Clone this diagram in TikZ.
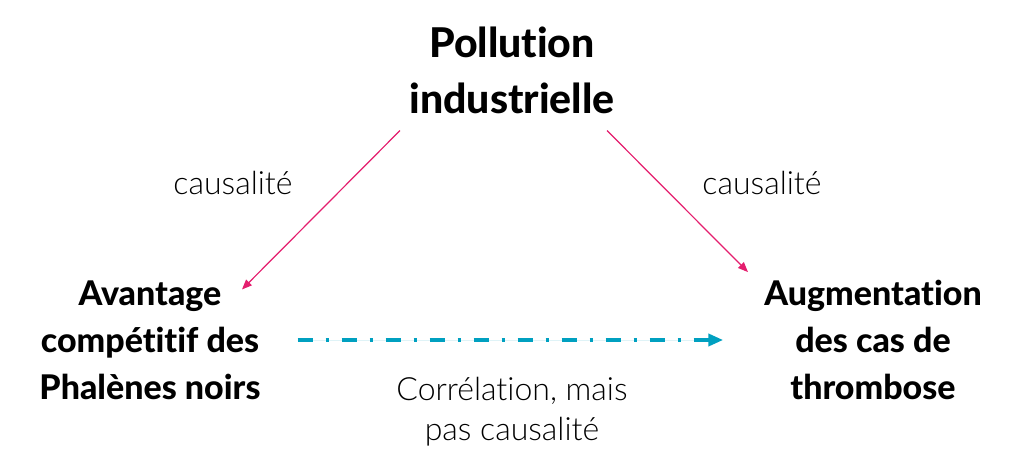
\documentclass[tikz,border=0pt]{standalone}
\usepackage{fontspec}
\setmainfont{Lato}[Ligatures=NoCommon, BoldFont={Lato Heavy}]
\newfontfamily\lightfont{Lato Light}[Ligatures=NoCommon]
\usetikzlibrary{arrows.meta}
\definecolor{causepink}{RGB}{228,30,110}
\definecolor{correlblue}{RGB}{0,160,192}

\begin{document}
\begin{tikzpicture}[x=0.5pt, y=-0.5pt,
    title/.style={align=center, font=\fontsize{20.5}{28}\selectfont\bfseries},
    factor/.style={align=center, font=\fontsize{17}{23.5}\selectfont\bfseries},
    note/.style={align=center, font=\lightfont\fontsize{16}{20}\selectfont},
    causal/.style={-{Triangle[length=5pt, width=4pt]}, draw=causepink, fill=causepink, line width=0.6pt},
    correl/.style={-{Triangle[length=7.5pt, width=6pt]}, draw=correlblue, fill=correlblue, line width=2pt,
        dash pattern=on 7.5pt off 6.5pt on 1.5pt off 6.5pt}]
    \useasboundingbox (0,0) rectangle (1024,466);
    \node[title](pollution) at (512,70) {Pollution\\industrielle};
    \node[factor](avantage) at (150,340) {Avantage\\compétitif des\\Phalènes noirs};
    \node[factor](thrombose) at (873,340) {Augmentation\\des cas de\\thrombose};
    \node[note](causeL) at (233,183) {causalité};
    \node[note](causeR) at (762,183) {causalité};
    \node[note](correlation) at (512,412) {Corrélation, mais\\pas causalité};
    \draw[causal] ([shift={(-112,10)}]pollution.south) to ([shift={(92,16)}]avantage.north);
    \draw[causal] ([shift={(95,10)}]pollution.south) to ([shift={(-125,-1)}]thrombose.north);
    \draw[correl] ([xshift=15pt]avantage.east) to ([xshift=-17pt]thrombose.west);
\end{tikzpicture}
\end{document}
